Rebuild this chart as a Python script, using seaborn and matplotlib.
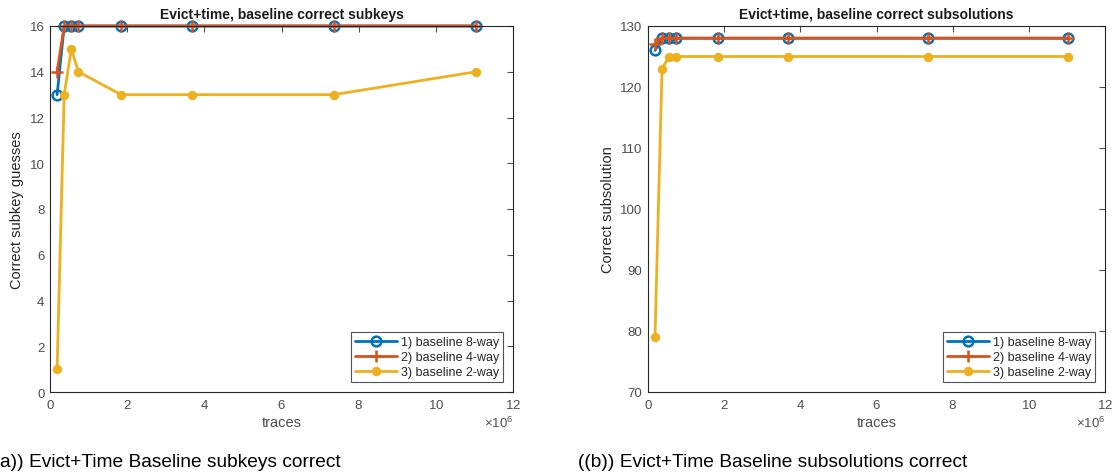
import numpy as np
import pandas as pd
import seaborn as sns
import matplotlib
matplotlib.use("Agg")
import matplotlib.pyplot as plt
from matplotlib.ticker import ScalarFormatter

traces = [0.184e6, 0.368e6, 0.552e6, 0.736e6, 1.84e6, 3.68e6, 7.36e6, 11.04e6]

subkeys_8way = [13, 16, 16, 16, 16, 16, 16, 16]
subkeys_4way = [14, 16, 16, 16, 16, 16, 16, 16]
subkeys_2way = [1, 13, 15, 14, 13, 13, 13, 14]

subsol_8way = [126, 128, 128, 128, 128, 128, 128, 128]
subsol_4way = [127, 128, 128, 128, 128, 128, 128, 128]
subsol_2way = [79, 123, 125, 125, 125, 125, 125, 125]

labels = ["1) baseline 8-way", "2) baseline 4-way", "3) baseline 2-way"]
titles = ["Evict+time, baseline correct subkeys", "Evict+time, baseline correct subsolutions"]
ylabels = ["Correct subkey guesses", "Correct subsolution"]
captions = ["a)) Evict+Time Baseline subkeys correct", "((b)) Evict+Time Baseline subsolutions correct"]

sns.set_theme(style="white")
plt.rcParams['font.family'] = ['Liberation Sans', 'DejaVu Sans']
plt.rcParams['mathtext.fontset'] = 'custom'
plt.rcParams['mathtext.rm'] = 'Liberation Sans'

colors = ["#0072BD", "#D95319", "#EDB120"]
tick_color = "#4d4d4d"

fig = plt.figure(figsize=(11.18, 4.77), dpi=100)
W, H = 1118, 477
ax1 = fig.add_axes([50 / W, 1 - 393 / H, 463 / W, 366 / H])
ax2 = fig.add_axes([648 / W, 1 - 393 / H, 457 / W, 366 / H])

datasets = [
    (subkeys_8way, subkeys_4way, subkeys_2way),
    (subsol_8way, subsol_4way, subsol_2way),
]
ylims = [(0, 16), (70, 130)]
yticks = [np.arange(0, 17, 2), np.arange(70, 131, 10)]

for i, ax in enumerate([ax1, ax2]):
    s8, s4, s2 = datasets[i]
    sns.lineplot(x=traces, y=s8, ax=ax, color=colors[0], lw=2, marker='o',
                 mfc='none', mec=colors[0], mew=1.8, ms=7, label=labels[0], clip_on=False)
    sns.lineplot(x=traces, y=s4, ax=ax, color=colors[1], lw=2, marker='+',
                 mec=colors[1], mew=1.8, ms=8, label=labels[1], clip_on=False)
    sns.lineplot(x=traces, y=s2, ax=ax, color=colors[2], lw=2, marker='o',
                 mfc=colors[2], mec=colors[2], ms=6, label=labels[2], clip_on=False)
    ax.set_xlim(0, 12e6)
    ax.set_ylim(*ylims[i])
    ax.set_xticks(np.arange(0, 12.1e6, 2e6))
    ax.set_yticks(yticks[i])
    fmt = ScalarFormatter(useMathText=True, useOffset=False)
    fmt.set_powerlimits((6, 6))
    ax.xaxis.set_major_formatter(fmt)
    ax.tick_params(direction='in', top=True, right=True, length=4, width=0.8,
                   colors=tick_color, labelsize=9.5, labelcolor=tick_color, pad=4)
    off = ax.xaxis.get_offset_text()
    off.set_color(tick_color)
    off.set_fontsize(9.5)
    for sp in ax.spines.values():
        sp.set_color("#262626")
        sp.set_linewidth(0.8)
    ax.set_title(titles[i], fontsize=10, fontweight='bold', color='#1a1a1a', pad=6)
    ax.set_xlabel("traces", fontsize=10.5, color=tick_color, labelpad=3)
    ax.set_ylabel(ylabels[i], fontsize=10.5, color='#262626', labelpad=4)
    leg = ax.legend(loc='lower right', fontsize=9, frameon=True, fancybox=False,
                    borderpad=0.3, labelspacing=0.25, handlelength=3.4,
                    handletextpad=0.3, borderaxespad=0.8)
    leg.get_frame().set_edgecolor('#262626')
    leg.get_frame().set_linewidth(0.8)
    for t in leg.get_texts():
        t.set_color('#262626')

fig.text(0 / W, 1 - 463 / H, captions[0], fontsize=13.8, va='center', ha='left', color='black')
fig.text(578 / W, 1 - 463 / H, captions[1], fontsize=13.8, va='center', ha='left', color='black')

fig.savefig("out.png", dpi=100)
